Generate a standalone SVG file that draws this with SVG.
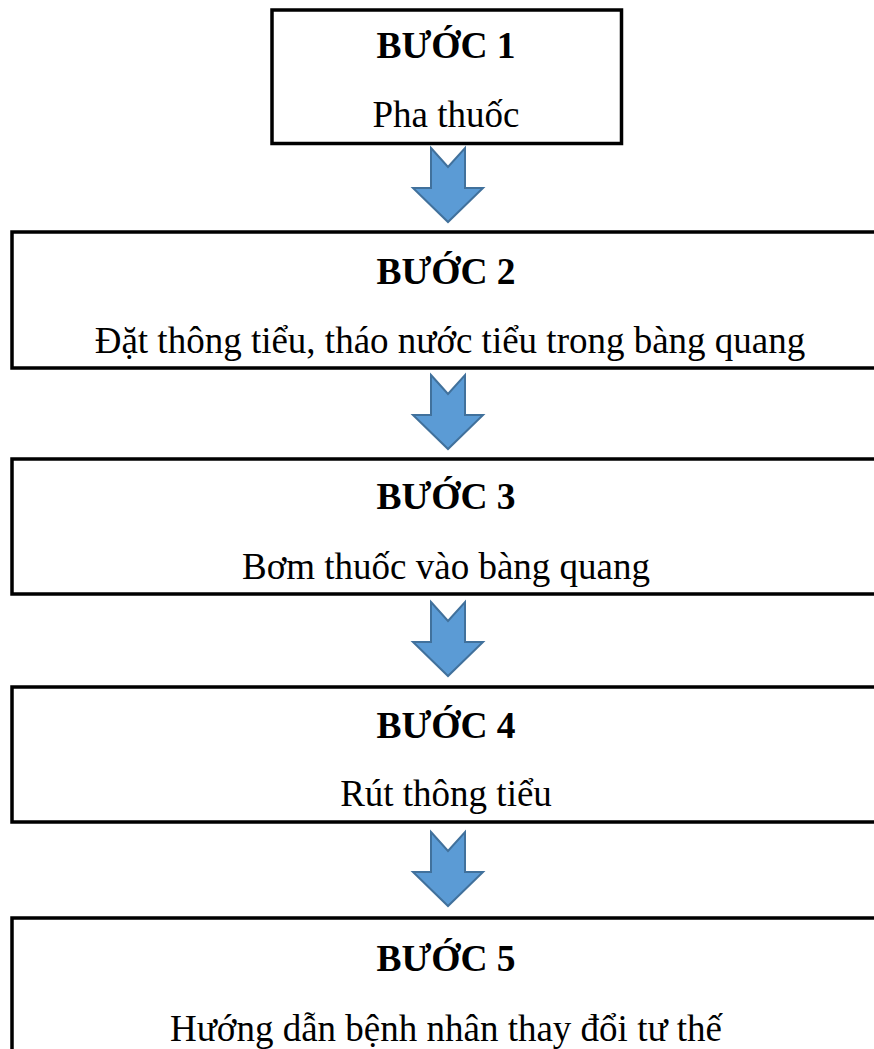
<svg xmlns="http://www.w3.org/2000/svg" width="874" height="1049" viewBox="0 0 874 1049">
<style>
.box{fill:#fff;stroke:#000;stroke-width:3.5}
.t{font-family:"Liberation Serif","Times New Roman",serif;font-size:37px;fill:#000;text-anchor:middle}
.b{font-weight:bold;font-size:37.5px}
.arr{fill:#5B9BD5;stroke:#41719C;stroke-width:2;stroke-linejoin:miter}
</style>
<defs>
<path id="arrow" d="M-17,0 L0,19 L17,0 L17,40 L35,40 L0,74 L-35,40 L-17,40 Z"/>
</defs>
<rect width="874" height="1049" fill="#fff"/>
<g id="connectors">
<use href="#arrow" class="arr" x="448" y="148"/>
<use href="#arrow" class="arr" x="448" y="375"/>
<use href="#arrow" class="arr" x="448" y="602"/>
<use href="#arrow" class="arr" x="448" y="832"/>
</g>
<g id="step1">
<rect class="box" x="272" y="10" width="349.5" height="133.5"/>
<text class="t b" x="446" y="58">BƯỚC 1</text>
<text class="t" x="446" y="127">Pha thuốc</text>
</g>
<g id="step2">
<rect class="box" x="12" y="232" width="880" height="136"/>
<text class="t b" x="446" y="284">BƯỚC 2</text>
<text class="t" x="450" y="353">Đặt thông tiểu, tháo nước tiểu trong bàng quang</text>
</g>
<g id="step3">
<rect class="box" x="12" y="459" width="880" height="135"/>
<text class="t b" x="446" y="509">BƯỚC 3</text>
<text class="t" x="446" y="579">Bơm thuốc vào bàng quang</text>
</g>
<g id="step4">
<rect class="box" x="12" y="687" width="880" height="135"/>
<text class="t b" x="446" y="738">BƯỚC 4</text>
<text class="t" x="446" y="806">Rút thông tiểu</text>
</g>
<g id="step5">
<rect class="box" x="12" y="918" width="880" height="160"/>
<text class="t b" x="446" y="971">BƯỚC 5</text>
<text class="t" x="446" y="1041">Hướng dẫn bệnh nhân thay đổi tư thế</text>
</g>
</svg>
